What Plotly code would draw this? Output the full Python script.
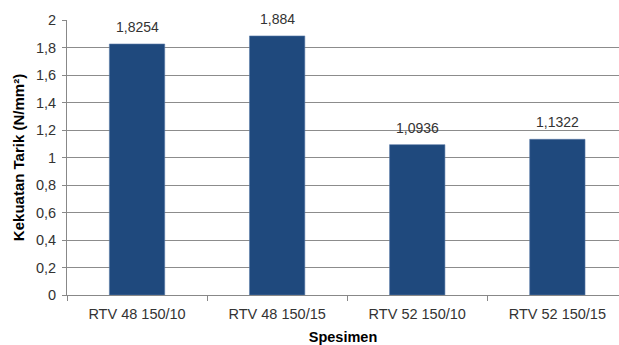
import plotly.graph_objects as go

categories = ["RTV 48 150/10", "RTV 48 150/15", "RTV 52 150/10", "RTV 52 150/15"]
values = [1.8254, 1.884, 1.0936, 1.1322]
labels = ["1,8254", "1,884", "1,0936", "1,1322"]
y_ticks = [0, 0.2, 0.4, 0.6, 0.8, 1.0, 1.2, 1.4, 1.6, 1.8, 2.0]

FONT = "Liberation Sans"
TXT = "#333333"

fig = go.Figure(go.Bar(
    x=categories, y=values,
    marker=dict(color="#1F497D", line=dict(color="#5A7AA8", width=0.6)),
    width=0.395,
))

for c, v, t in zip(categories, values, labels):
    fig.add_annotation(x=c, y=v, text=t, showarrow=False, yanchor="middle", yshift=17,
                       font=dict(family=FONT, size=14, color=TXT))

fig.update_layout(
    width=619, height=345, margin=dict(l=67, r=0, t=20, b=50),
    paper_bgcolor="white", plot_bgcolor="white", showlegend=False,
    separators=",.",
    font=dict(family=FONT, size=14, color=TXT),
    xaxis=dict(range=[-0.5, 3.44], showline=True, linecolor="#888888", linewidth=1,
               ticks="outside", tickson="boundaries", ticklen=5, tickcolor="#888888",
               ticklabelstandoff=6,
               tickfont=dict(family=FONT, size=14.5, color=TXT),
               title=dict(text="<b>Spesimen</b>", font=dict(family=FONT, size=14.5, color="#000000"), standoff=13)),
    yaxis=dict(range=[0, 2], tickvals=y_ticks, showline=True, linecolor="#888888", linewidth=1,
               ticks="outside", ticklen=4, tickcolor="#888888", ticklabelstandoff=3,
               showgrid=True, gridcolor="#8C8C8C", gridwidth=1, zeroline=False,
               tickfont=dict(family=FONT, size=14.5, color=TXT),
               title=dict(text="<b>Kekuatan Tarik (N/mm²)</b>", font=dict(family=FONT, size=15, color="#000000"), standoff=7)),
)

fig.write_html("out.html")
